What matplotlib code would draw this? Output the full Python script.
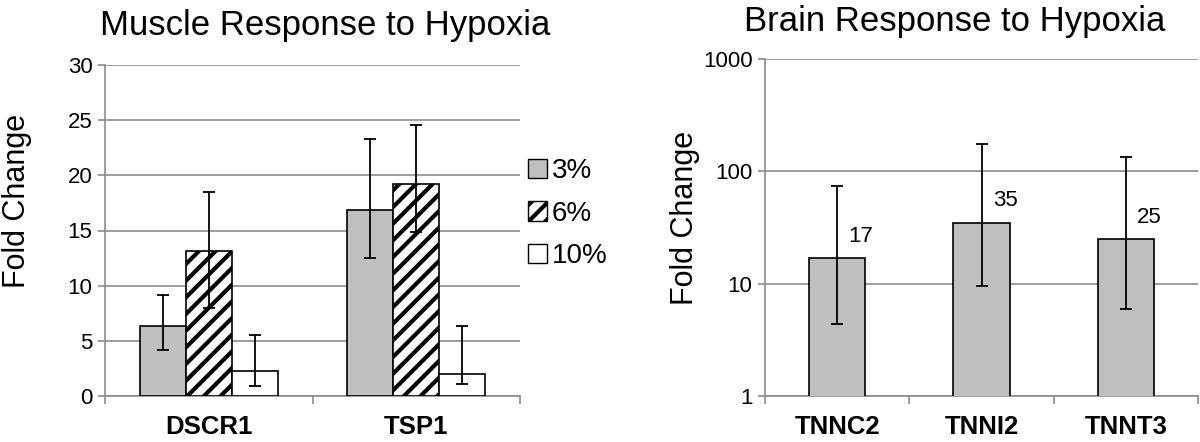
import matplotlib
matplotlib.use("Agg")
import matplotlib.pyplot as plt
import numpy as np
from matplotlib.patches import Patch

plt.rcParams['font.family'] = ['Liberation Sans', 'DejaVu Sans']
plt.rcParams['hatch.linewidth'] = 3.0

# ---- data: muscle ----
muscle_genes = ["DSCR1", "TSP1"]
muscle_series = ["3%", "6%", "10%"]
muscle_vals = {
    "3%": [6.35, 16.9],
    "6%": [13.1, 19.2],
    "10%": [2.27, 1.97],
}
muscle_err_low = {
    "3%": [2.2, 4.4],
    "6%": [5.1, 4.35],
    "10%": [1.33, 0.91],
}
muscle_err_high = {
    "3%": [2.8, 6.35],
    "6%": [5.4, 5.4],
    "10%": [3.26, 4.38],
}

# ---- data: brain ----
brain_genes = ["TNNC2", "TNNI2", "TNNT3"]
brain_vals = [17, 35, 25]
brain_err_low = [4.4, 9.6, 6.0]
brain_err_high = [74.5, 176, 134]
brain_labels = ["17", "35", "25"]

W, H = 1200, 442
fig = plt.figure(figsize=(W/100, H/100), dpi=100)

grid_c = '#8c8c8c'
tick_fs = 16
cat_fs = 18.5
ylab_fs = 22
title_fs = 25

# ---------- left panel ----------
ax1 = fig.add_axes([105/W, 1-396/H, (520-105)/W, (396-65)/H])
x = np.arange(len(muscle_genes))
bw = 0.222
styles = {
    "3%": dict(facecolor='#bfbfbf', hatch=None),
    "6%": dict(facecolor='white', hatch='//'),
    "10%": dict(facecolor='white', hatch=None),
}
for i, s in enumerate(muscle_series):
    pos = x + (i - 1) * bw
    ax1.bar(pos, muscle_vals[s], width=bw, edgecolor='black', linewidth=1.2,
            zorder=3, **styles[s])
    ax1.errorbar(pos, muscle_vals[s],
                 yerr=[muscle_err_low[s], muscle_err_high[s]],
                 fmt='none', ecolor='black', elinewidth=1.3, capsize=4,
                 capthick=1.3, zorder=4)
ax1.set_xlim(-0.5, len(muscle_genes) - 0.5)
ax1.set_ylim(0, 30)
ax1.set_yticks(np.arange(0, 31, 5))
ax1.yaxis.grid(True, color=grid_c, linewidth=1.2, zorder=0)
ax1.set_axisbelow(True)
ax1.set_xticks(x)
ax1.set_xticklabels(muscle_genes, fontsize=cat_fs, fontweight='bold')
ax1.set_xticks(np.arange(-0.5, len(muscle_genes), 1), minor=True)
ax1.tick_params(axis='x', which='major', length=0, pad=14)
ax1.tick_params(axis='x', which='minor', length=6, color=grid_c, width=1.2)
ax1.tick_params(axis='y', length=5, color=grid_c, width=1.2, labelsize=tick_fs, pad=4)
for sp in ['top', 'right']:
    ax1.spines[sp].set_visible(False)
for sp in ['left', 'bottom']:
    ax1.spines[sp].set_color(grid_c)
    ax1.spines[sp].set_linewidth(1.2)
ax1.set_ylabel("Fold Change", fontsize=ylab_fs)
ax1.yaxis.set_label_coords((32 - 105) / (520 - 105), 0.59)

handles = [Patch(edgecolor='black', linewidth=1.0, **styles[s]) for s in muscle_series]
leg = fig.legend(handles, muscle_series, loc='upper left',
                 bbox_to_anchor=(528/W, 1-158/H), frameon=False, fontsize=20,
                 handlelength=0.7, handleheight=0.7, handletextpad=0.15,
                 labelspacing=0.6, borderaxespad=0, borderpad=0)

fig.text(325/W, 1-26/H, "Muscle Response to Hypoxia", fontsize=title_fs,
         ha='center', va='center')

# ---------- right panel ----------
ax2 = fig.add_axes([765/W, 1-396/H, (1198-765)/W, (396-59)/H])
xb = np.arange(len(brain_genes))
bw2 = 0.39
ax2.bar(xb, brain_vals, width=bw2, facecolor='#bfbfbf', edgecolor='black',
        linewidth=1.2, zorder=3)
ax2.errorbar(xb, brain_vals,
             yerr=[np.array(brain_vals) - np.array(brain_err_low),
                   np.array(brain_err_high) - np.array(brain_vals)],
             fmt='none', ecolor='black', elinewidth=1.3, capsize=4,
             capthick=1.3, zorder=4)
for xi, v, lab in zip(xb, brain_vals, brain_labels):
    ax2.annotate(lab, (xi, v), xytext=(8, 8), textcoords='offset points',
                 fontsize=tick_fs, ha='left', va='bottom')
ax2.set_yscale('log')
ax2.set_ylim(1, 1000)
ax2.set_yticks([1, 10, 100, 1000])
ax2.set_yticklabels(["1", "10", "100", "1000"])
ax2.yaxis.set_minor_locator(matplotlib.ticker.NullLocator())
ax2.set_xlim(-0.5, len(brain_genes) - 0.5)
ax2.yaxis.grid(True, color=grid_c, linewidth=1.2, zorder=0)
ax2.set_axisbelow(True)
ax2.set_xticks(xb)
ax2.set_xticklabels(brain_genes, fontsize=cat_fs, fontweight='bold')
ax2.set_xticks(np.arange(-0.5, len(brain_genes), 1), minor=True)
ax2.tick_params(axis='x', which='major', length=0, pad=14)
ax2.tick_params(axis='x', which='minor', length=6, color=grid_c, width=1.2)
ax2.tick_params(axis='y', length=5, color=grid_c, width=1.2, labelsize=tick_fs, pad=4)
for sp in ['top', 'right']:
    ax2.spines[sp].set_visible(False)
for sp in ['left', 'bottom']:
    ax2.spines[sp].set_color(grid_c)
    ax2.spines[sp].set_linewidth(1.2)
ax2.set_ylabel("Fold Change", fontsize=ylab_fs)
ax2.yaxis.set_label_coords((700 - 765) / (1198 - 765), 0.528)

fig.text(955/W, 1-22/H, "Brain Response to Hypoxia", fontsize=title_fs,
         ha='center', va='center')

fig.savefig("out.png", dpi=100)
